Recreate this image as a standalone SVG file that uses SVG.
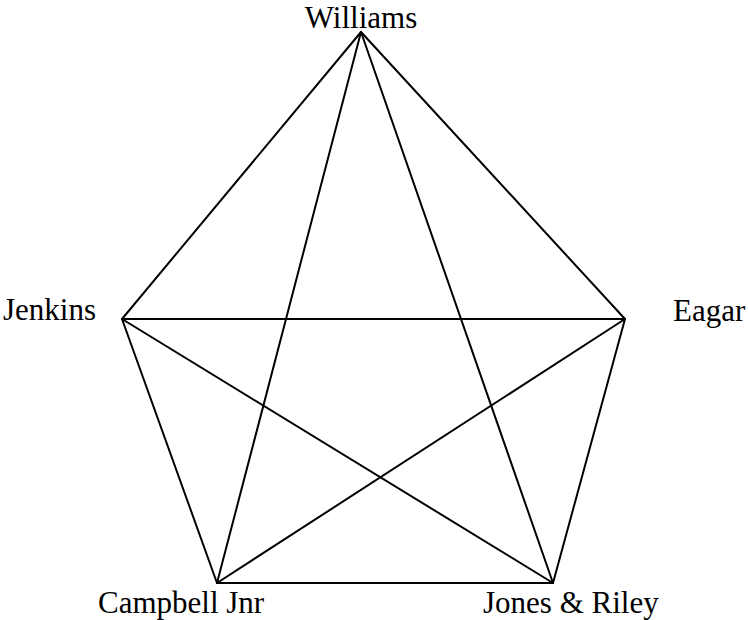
<svg xmlns="http://www.w3.org/2000/svg" width="748" height="620" viewBox="0 0 748 620">
<style>
.lbl{font-family:'Liberation Serif','Times New Roman',Times,serif;font-size:31px;fill:#000}
.e{stroke:#000;stroke-width:2;fill:none;stroke-linecap:round}
</style>
<rect width="748" height="620" fill="#fff"/>
<g id="connectors">
<line class="e" x1="361" y1="32" x2="122" y2="319"/>
<line class="e" x1="361" y1="32" x2="625" y2="319"/>
<line class="e" x1="361" y1="32" x2="217" y2="583"/>
<line class="e" x1="361" y1="32" x2="553" y2="583"/>
<line class="e" x1="122" y1="319" x2="625" y2="319"/>
<line class="e" x1="122" y1="319" x2="217" y2="583"/>
<line class="e" x1="122" y1="319" x2="553" y2="583"/>
<line class="e" x1="625" y1="319" x2="217" y2="583"/>
<line class="e" x1="625" y1="319" x2="553" y2="583"/>
<line class="e" x1="217" y1="583" x2="553" y2="583"/>
</g>
<g id="williams"><text class="lbl" x="361" y="28" text-anchor="middle">Williams</text></g>
<g id="jenkins"><text class="lbl" x="3" y="320">Jenkins</text></g>
<g id="eagar"><text class="lbl" x="673" y="321">Eagar</text></g>
<g id="campbell"><text class="lbl" x="98" y="613">Campbell Jnr</text></g>
<g id="jones"><text class="lbl" x="483" y="613">Jones &amp; Riley</text></g>
</svg>
